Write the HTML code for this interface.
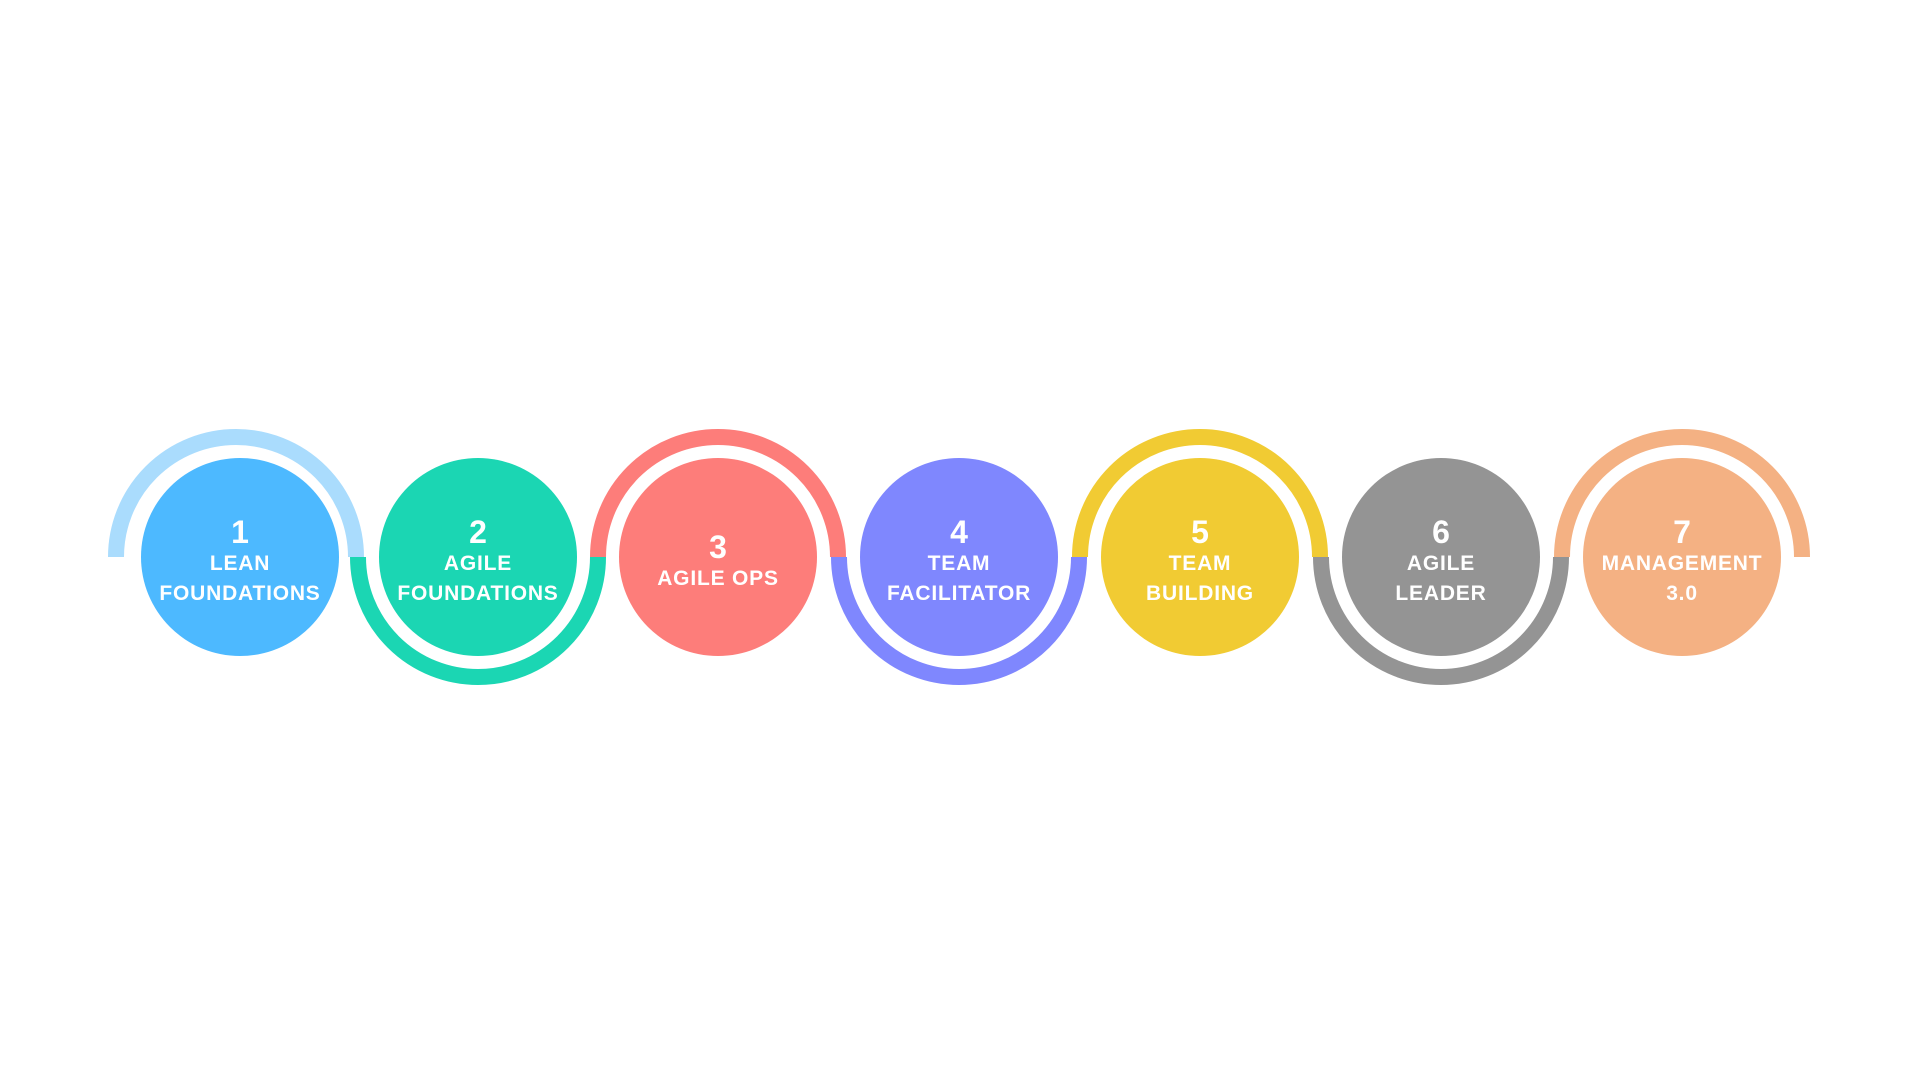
<!DOCTYPE html>
<html><head><style>
body{margin:0;width:1920px;height:1080px;background:#fff;overflow:hidden;position:relative;font-family:"Liberation Sans",sans-serif}
svg{position:absolute;left:0;top:0}
.t{position:absolute;width:230px;margin-left:-115px;top:562px;transform:translateY(-50%);text-align:center;color:#fff;font-weight:bold}
.n{font-size:32px;line-height:34px}
.l{font-size:21px;line-height:30px;letter-spacing:0.8px}
</style></head><body>
<svg width="1920" height="1080">
<g fill="none" stroke-width="16">
<path d="M116 557 A120 120 0 0 1 356 557" stroke="#aadcfd"/>
<path d="M358 557 A120 120 0 0 0 598 557" stroke="#1bd6b3"/>
<path d="M598 557 A120 120 0 0 1 838 557" stroke="#fd7d7a"/>
<path d="M839 557 A120 120 0 0 0 1079 557" stroke="#7f87fe"/>
<path d="M1080 557 A120 120 0 0 1 1320 557" stroke="#f1cb33"/>
<path d="M1321 557 A120 120 0 0 0 1561 557" stroke="#949494"/>
<path d="M1562 557 A120 120 0 0 1 1802 557" stroke="#f4b183"/>
</g>
<circle cx="240" cy="557" r="99" fill="#4db9ff"/>
<circle cx="478" cy="557" r="99" fill="#1bd6b3"/>
<circle cx="718" cy="557" r="99" fill="#fd7d7a"/>
<circle cx="959" cy="557" r="99" fill="#7f87fe"/>
<circle cx="1200" cy="557" r="99" fill="#f1cb33"/>
<circle cx="1441" cy="557" r="99" fill="#949494"/>
<circle cx="1682" cy="557" r="99" fill="#f4b183"/>
</svg>
<div class="t" style="left:240px"><div class="n">1</div><div class="l">LEAN<br>FOUNDATIONS</div></div>
<div class="t" style="left:478px"><div class="n">2</div><div class="l">AGILE<br>FOUNDATIONS</div></div>
<div class="t" style="left:718px"><div class="n">3</div><div class="l">AGILE OPS</div></div>
<div class="t" style="left:959px"><div class="n">4</div><div class="l">TEAM<br>FACILITATOR</div></div>
<div class="t" style="left:1200px"><div class="n">5</div><div class="l">TEAM<br>BUILDING</div></div>
<div class="t" style="left:1441px"><div class="n">6</div><div class="l">AGILE<br>LEADER</div></div>
<div class="t" style="left:1682px"><div class="n">7</div><div class="l">MANAGEMENT<br>3.0</div></div>
</body></html>
